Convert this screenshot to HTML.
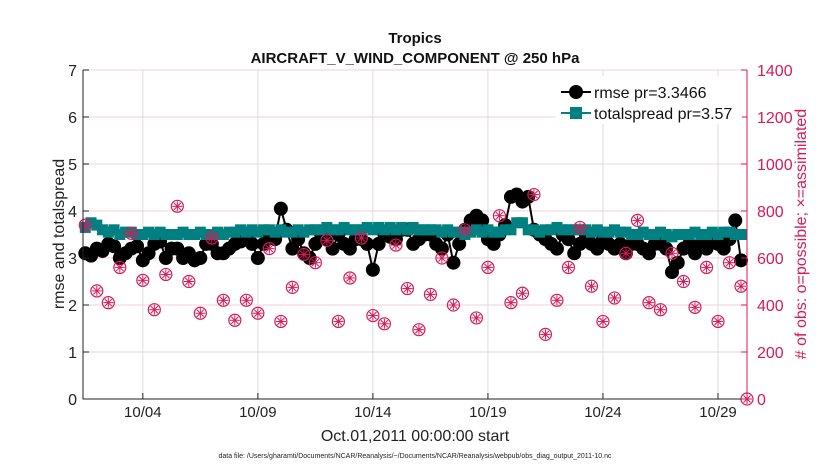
<!DOCTYPE html>
<html><head><meta charset="utf-8"><style>
body{margin:0;background:#fff;}
svg{display:block;font-family:"Liberation Sans",sans-serif;}
</style></head><body>
<svg id="c" width="830" height="470"></svg>
<script>
const dateTicks=[4,9,14,19,24,29];
const dateLabels=["10/04","10/09","10/14","10/19","10/24","10/29"];
const leftTicks=[0,1,2,3,4,5,6,7];
const rightTicks=[0,200,400,600,800,1000,1200,1400];
const rmse=[3.1,3.05,3.2,3.15, 3.3,3.25,3.0,3.1, 3.2,3.25,2.95,3.1, 3.3,3.35,3.0,3.2,
3.2,3.0,3.1,2.95, 3.0,3.3,3.3,3.1, 3.1,3.2,3.3,3.35, 3.4,3.3,3.0,3.3,
3.5,3.4,4.05,3.6, 3.2,3.4,3.1,3.0, 3.3,3.5,3.4,3.2, 3.5,3.3,3.2,3.4,
3.4,3.3,2.75,3.3, 3.5,3.45,3.4,3.6, 3.6,3.3,3.4,3.5, 3.5,3.3,3.2,3.5,
2.9,3.3,3.6,3.8, 3.9,3.8,3.4,3.3, 3.5,3.7,4.3,4.35, 4.2,4.3,3.6,3.5,
3.4,3.3,3.2,3.5, 3.4,3.1,3.3,3.5, 3.3,3.2,3.4,3.3, 3.2,3.3,3.1,3.3,
3.3,3.2,3.1,3.3, 3.3,3.2,2.7,2.9, 3.2,3.3,3.1,3.3, 3.2,3.4,3.3,3.2,
3.4,3.8,2.95];
const spread=[3.65,3.75,3.7,3.6, 3.55,3.6,3.5,3.55, 3.55,3.5,3.5,3.55, 3.5,3.55,3.5,3.5,
3.5,3.55,3.5,3.5, 3.55,3.5,3.5,3.55, 3.5,3.55,3.55,3.6, 3.55,3.6,3.55,3.6,
3.6,3.55,3.6,3.55, 3.55,3.6,3.55,3.6, 3.6,3.6,3.65,3.6, 3.6,3.65,3.6,3.6,
3.6,3.65,3.6,3.65, 3.6,3.65,3.6,3.65, 3.6,3.65,3.6,3.6, 3.6,3.6,3.55,3.6,
3.55,3.55,3.5,3.55, 3.6,3.55,3.6,3.55, 3.55,3.6,3.6,3.75, 3.75,3.6,3.6,3.55,
3.6,3.6,3.65,3.6, 3.6,3.6,3.6,3.6, 3.55,3.6,3.55,3.55, 3.6,3.55,3.55,3.5,
3.5,3.55,3.5,3.5, 3.55,3.5,3.45,3.5, 3.5,3.5,3.55,3.5, 3.5,3.55,3.5,3.55,
3.55,3.5,3.5];
const obsPossible=[740,460,410,560,705,505,380,530,820,500,
365,685,420,335,420,365,640,330,475,615,
580,675,330,515,685,355,320,655,470,295,
445,600,400,720,345,560,780,410,450,870,
275,420,560,730,480,330,430,620,760,410,
380,620,500,390,560,330,580,480,0];
const obsAssim=obsPossible.slice();
const X0=83,X1=747,Y0=399,Y1=70,D0=1.4,D1=30.26;
const xs=d=>X0+(d-D0)/(D1-D0)*(X1-X0);
const yl=v=>Y0-v/7*(Y0-Y1);
const yr=v=>Y0-v/1400*(Y0-Y1);
const dayOf=i=>1.5+i*0.25;
const obsDay=i=>i<58?1.5+i*0.5:D1;
const NS="http://www.w3.org/2000/svg";
const svg=document.getElementById('c');
function mk(t,a,p){const e=document.createElementNS(NS,t);for(const k in a)e.setAttribute(k,a[k]);(p||svg).appendChild(e);return e;}
function tx(s,a){const e=mk('text',a);e.textContent=s;return e;}
leftTicks.forEach(v=>{const g=mk('line',{x1:X0,x2:X1,y1:yl(v),y2:yl(v),stroke:'#f2d0dc','stroke-width':1});

});
dateTicks.forEach(d=>{const g=mk('line',{x1:xs(d),x2:xs(d),y1:Y1,y2:Y0,stroke:'#dcdcdc','stroke-width':1});

});
const pink='#d8195a';
// rmse
let p='';rmse.forEach((v,i)=>{p+=(i?'L':'M')+xs(dayOf(i))+' '+yl(v);});
const rl=mk('path',{d:p,fill:'none',stroke:'#000','stroke-width':2});


rmse.forEach((v,i)=>{const c=mk('circle',{cx:xs(dayOf(i)),cy:yl(v),r:7,fill:'#000'});

});
// spread
p='';spread.forEach((v,i)=>{p+=(i?'L':'M')+xs(dayOf(i))+' '+yl(v);});
const sl=mk('path',{d:p,fill:'none',stroke:'#008080','stroke-width':2});


spread.forEach((v,i)=>{const r=mk('rect',{x:xs(dayOf(i))-5.5,y:yl(v)-5.5,width:11,height:11,fill:'#008080'});

});
// obs markers
obsPossible.forEach((v,i)=>{
 const cx=xs(obsDay(i)), cy=yr(v);
 const g=mk('g',{});
 
 
 mk('circle',{cx:cx,cy:cy,r:6,fill:'none',stroke:pink,'stroke-width':1.2},g);
 const a=yr(obsAssim[i])-cy;
 for(let k=0;k<4;k++){const an=k*Math.PI/4;mk('line',{x1:cx-5*Math.cos(an),y1:cy+a-5*Math.sin(an),x2:cx+5*Math.cos(an),y2:cy+a+5*Math.sin(an),stroke:pink,'stroke-width':1},g);}
});
const ax=mk('path',{d:`M${X0} ${Y1}V${Y0}H${X1}`,fill:'none',stroke:'#222','stroke-width':1});


const ar=mk('line',{x1:X1,x2:X1,y1:Y1,y2:Y0,stroke:pink,'stroke-width':1});


leftTicks.forEach(v=>{mk('line',{x1:X0,x2:X0+6,y1:yl(v),y2:yl(v),stroke:'#222'});
const t=tx(String(v),{x:X0-6,y:yl(v)+6,'text-anchor':'end','font-size':16,fill:'#222'});

});
rightTicks.forEach(v=>{mk('line',{x1:X1-6,x2:X1,y1:yr(v),y2:yr(v),stroke:pink});
const t=tx(String(v),{x:X1+10,y:yr(v)+6,'font-size':16,fill:pink});

});
dateTicks.forEach((d,i)=>{mk('line',{x1:xs(d),x2:xs(d),y1:Y0,y2:Y0-6,stroke:'#222'});
const t=tx(dateLabels[i],{x:xs(d),y:417,'text-anchor':'middle','font-size':15,fill:'#222'});

});
</script>
<svg width="830" height="470" style="position:absolute;left:0;top:0">
<text x="415" y="43" text-anchor="middle" font-size="15" font-weight="bold" fill="#111">Tropics</text>
<text x="415" y="63" text-anchor="middle" font-size="15" font-weight="bold" fill="#111">AIRCRAFT_V_WIND_COMPONENT @ 250 hPa</text>
<text x="415" y="441" text-anchor="middle" font-size="16" fill="#222">Oct.01,2011 00:00:00 start</text>
<text x="415" y="458" text-anchor="middle" font-size="7" fill="#222">data file: /Users/gharamti/Documents/NCAR/Reanalysis/~/Documents/NCAR/Reanalysis/webpub/obs_diag_output_2011-10.nc</text>
<text transform="translate(64,234) rotate(-90)" text-anchor="middle" font-size="16" fill="#222">rmse and totalspread</text>
<text transform="translate(806,234) rotate(-90)" text-anchor="middle" font-size="16" fill="#d8195a"># of obs: o=possible; ×=assimilated</text>
<g>
<rect x="556" y="76" width="186" height="48" fill="#fff" stroke="none"/>
<line x1="561" x2="591" y1="92" y2="92" stroke="#000" stroke-width="2"/>
<circle cx="576" cy="92" r="7" fill="#000"/>
<text x="594" y="98" font-size="16" fill="#111">rmse pr=3.3466</text>
<line x1="561" x2="591" y1="113" y2="113" stroke="#008080" stroke-width="2"/>
<rect x="570" y="107" width="12" height="12" fill="#008080"/>
<text x="594" y="119" font-size="16" fill="#111">totalspread pr=3.57</text>
</g>
</svg>
</body></html>
